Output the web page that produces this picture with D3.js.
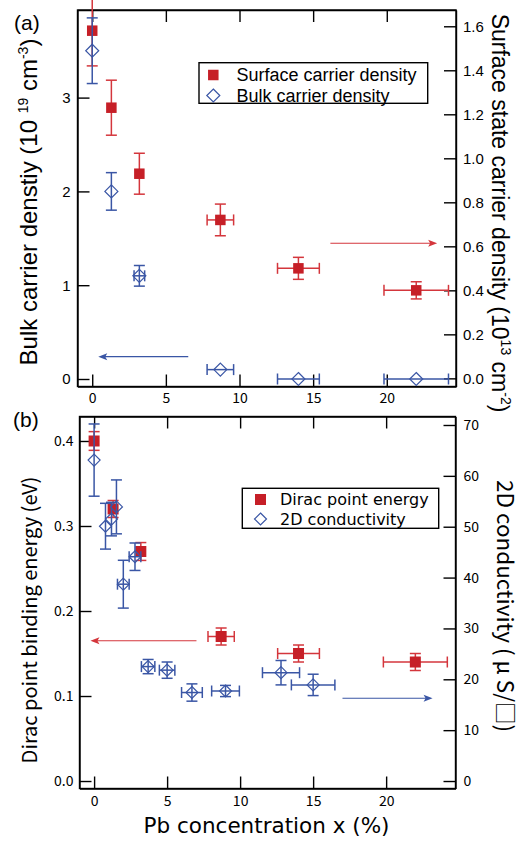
<!DOCTYPE html>
<html>
<head>
<meta charset="utf-8">
<script src="https://cdn.jsdelivr.net/npm/d3@7"></script>
<style>
  html, body { margin: 0; padding: 0; background: #fff; }
  svg { display: block; }
</style>
</head>
<body>
<svg id="chart" width="525" height="841"></svg>
<script>
// ---- Panel (a): carrier densities vs Pb concentration ----
const xSurface      = [0, 1.3, 3.2, 8.7, 14.0, 22.0];
const surfaceDens   = [1.58, 1.23, 0.93, 0.72, 0.50, 0.40];   // 10^13 cm^-2 (right axis)
const surfaceErr    = [0.16, 0.125, 0.093, 0.072, 0.05, 0.039];
const xSurfaceErr   = [0, 0, 0, 0.9, 1.42, 2.19];

const xBulk         = [0, 1.3, 3.2, 8.7, 14.0, 22.0];
const bulkDens      = [3.5, 2.0, 1.1, 0.1, 0.0, 0.0];         // 10^19 cm^-3 (left axis)
const bulkErr       = [0.35, 0.2, 0.11, 0, 0, 0];
const xBulkErr      = [0, 0, 0.36, 0.9, 1.42, 2.19];

// ---- Panel (b): Dirac point energy and 2D conductivity ----
const xDirac        = [0, 1.3, 3.2, 8.7, 14.0, 22.0];
const diracEnergy   = [0.40, 0.32, 0.27, 0.17, 0.15, 0.14];   // eV (left axis)
const diracErr      = [0.011, 0.01, 0.0105, 0.01, 0.01, 0.01];
const xDiracErr     = [0, 0, 0, 0.9, 1.43, 2.19];

const xCond         = [0, 0.78, 1.19, 1.53, 2.0, 2.8, 3.7, 5.0, 6.7, 9.0, 12.8, 15.0];
const conductivity  = [63.1, 50.1, 51.5, 53.9, 38.7, 44.1, 22.5, 21.8, 17.4, 17.7, 21.3, 18.9]; // uS/sq (right axis)
const condErr       = [7.1, 4.5, 3.3, 5.3, 4.7, 2.7, 1.4, 1.6, 1.7, 1.1, 2.4, 2.1];
const xCondErr      = [0, 0, 0, 0, 0.4, 0.4, 0.46, 0.53, 0.71, 0.95, 1.27, 1.49];

// ---- Tick values ----
const xTicks        = [0, 5, 10, 15, 20];
const bulkTicks     = [0, 1, 2, 3];
const surfaceTicks  = [0, 0.2, 0.4, 0.6, 0.8, 1.0, 1.2, 1.4, 1.6];
const diracTicks    = [0, 0.1, 0.2, 0.3, 0.4];
const condTicks     = [0, 10, 20, 30, 40, 50, 60, 70];

const RED = "#c61f27", RED_BAR = "#d4363c", BLUE = "#3a56a5";
const SANS = "'Liberation Sans', Arial, Helvetica, sans-serif";
const JP = "'Noto Sans CJK JP', 'Noto Sans', sans-serif";
const LEG = "'DejaVu Sans', sans-serif";

const svg = d3.select("#chart");

// geometry of both panels
const A = { l: 77.5, r: 456, t: 10, b: 386.5 };
const B = { l: 79.5, r: 455.5, t: 416.5, b: 788.5 };

const xA = d3.scaleLinear().domain([-1.0, 24.7]).range([A.l, A.r]);
const yBulk = d3.scaleLinear().domain([-0.08, 3.934]).range([A.b, A.t]);
const ySurf = d3.scaleLinear().domain([-0.037, 1.674]).range([A.b, A.t]);

const xB = d3.scaleLinear().domain([-1.0, 24.75]).range([B.l, B.r]);
const yDirac = d3.scaleLinear().domain([-0.0088, 0.4288]).range([B.b, B.t]);
const yCond = d3.scaleLinear().domain([-1.47, 71.67]).range([B.b, B.t]);

const TICK = 12;

function styleAxis(g, font, size) {
  g.selectAll("path.domain").attr("stroke", "#000").attr("stroke-width", 1.4);
  g.selectAll(".tick line").attr("stroke", "#000").attr("stroke-width", 1.4);
  g.selectAll(".tick text").attr("font-family", font).attr("font-size", size).attr("fill", "#000");
  g.attr("font-family", null).attr("font-size", null);
}

function frame(P, x, yL, yR, opts) {
  const g = svg.append("g");
  // top
  g.append("g").attr("transform", `translate(0,${P.t})`)
    .call(d3.axisTop(x).tickValues(xTicks).tickSizeInner(-TICK).tickSizeOuter(0).tickFormat(""))
    .call(s => styleAxis(s, opts.xFont, opts.xSize));
  // bottom
  g.append("g").attr("transform", `translate(0,${P.b})`)
    .call(d3.axisBottom(x).tickValues(xTicks).tickSizeInner(-TICK).tickSizeOuter(0).tickPadding(opts.xPad).tickFormat(d3.format("d")))
    .call(s => styleAxis(s, opts.xFont, opts.xSize));
  // left
  g.append("g").attr("transform", `translate(${P.l},0)`)
    .call(d3.axisLeft(yL).tickValues(opts.lTicks).tickSizeInner(-TICK).tickSizeOuter(0).tickPadding(opts.lPad).tickFormat(opts.lFmt))
    .call(s => styleAxis(s, opts.yFont, opts.ySize));
  // right
  g.append("g").attr("transform", `translate(${P.r},0)`)
    .call(d3.axisRight(yR).tickValues(opts.rTicks).tickSizeInner(-TICK).tickSizeOuter(0).tickPadding(opts.rPad).tickFormat(opts.rFmt))
    .call(s => styleAxis(s, opts.yFont, opts.ySize));
  // close the frame corners
  g.append("rect").attr("x", P.l).attr("y", P.t).attr("width", P.r - P.l).attr("height", P.b - P.t)
    .attr("fill", "none").attr("stroke", "#000").attr("stroke-width", 1.4);
}

function errorBars(g, xs, ys, yerr, xerr, x, y, color) {
  const cap = 5.5;
  xs.forEach((xv, i) => {
    const px = x(xv), py = y(ys[i]);
    if (yerr[i] > 0) {
      const y1 = y(ys[i] - yerr[i]), y2 = y(ys[i] + yerr[i]);
      g.append("line").attr("x1", px).attr("x2", px).attr("y1", y1).attr("y2", y2);
      g.append("line").attr("x1", px - cap).attr("x2", px + cap).attr("y1", y1).attr("y2", y1);
      g.append("line").attr("x1", px - cap).attr("x2", px + cap).attr("y1", y2).attr("y2", y2);
    }
    if (xerr[i] > 0) {
      const x1 = x(xv - xerr[i]), x2 = x(xv + xerr[i]);
      g.append("line").attr("x1", x1).attr("x2", x2).attr("y1", py).attr("y2", py);
      g.append("line").attr("x1", x1).attr("x2", x1).attr("y1", py - cap).attr("y2", py + cap);
      g.append("line").attr("x1", x2).attr("x2", x2).attr("y1", py - cap).attr("y2", py + cap);
    }
  });
  g.attr("stroke", color).attr("stroke-width", 1.5).attr("fill", "none");
}

function squares(g, xs, ys, x, y, size) {
  g.selectAll("rect").data(xs).join("rect")
    .attr("x", (d) => x(d) - size / 2)
    .attr("y", (d, i) => y(ys[i]) - size / 2)
    .attr("width", size).attr("height", size)
    .attr("fill", RED);
}

const diamondPath = (cx, cy, r) => `M${cx},${cy - r}L${cx + r},${cy}L${cx},${cy + r}L${cx - r},${cy}Z`;

function diamonds(g, xs, ys, x, y, r) {
  g.selectAll("path").data(xs).join("path")
    .attr("d", (d, i) => diamondPath(x(d), y(ys[i]), r))
    .attr("fill", "none").attr("stroke", BLUE).attr("stroke-width", 1.2);
}

function arrow(x1, y1, x2, y2, color) {
  const g = svg.append("g");
  const dir = Math.sign(x2 - x1);
  g.append("line").attr("x1", x1).attr("y1", y1).attr("x2", x2 - dir * 6).attr("y2", y2)
    .attr("stroke", color).attr("stroke-width", 1.1);
  g.append("path")
    .attr("d", `M${x2},${y2}L${x2 - dir * 9},${y2 - 3.5}L${x2 - dir * 7},${y2}L${x2 - dir * 9},${y2 + 3.5}Z`)
    .attr("fill", color);
}

// ================= Panel (a) =================
frame(A, xA, yBulk, ySurf, {
  xFont: JP, xSize: 14, xPad: 7,
  yFont: SANS, ySize: 15,
  lTicks: bulkTicks, lPad: 7, lFmt: d3.format("d"),
  rTicks: surfaceTicks, rPad: 7, rFmt: d3.format(".1f")
});

errorBars(svg.append("g"), xSurface, surfaceDens, surfaceErr, xSurfaceErr, xA, ySurf, RED_BAR);
squares(svg.append("g"), xSurface, surfaceDens, xA, ySurf, 10.5);
errorBars(svg.append("g"), xBulk, bulkDens, bulkErr, xBulkErr, xA, yBulk, BLUE);
diamonds(svg.append("g"), xBulk, bulkDens, xA, yBulk, 6.5);

arrow(xA(16.17), ySurf(0.614), xA(23.42), ySurf(0.614), RED_BAR);
arrow(xA(6.52), yBulk(0.238), xA(0.41), yBulk(0.238), BLUE);

// legend (a)
svg.append("rect").attr("x", 199).attr("y", 62.7).attr("width", 228.7).attr("height", 40.6)
  .attr("fill", "#fff").attr("stroke", "#000").attr("stroke-width", 1.4);
svg.append("rect").attr("x", 213.3 - 5.25).attr("y", 75 - 5.25).attr("width", 10.5).attr("height", 10.5).attr("fill", RED);
svg.append("path").attr("d", diamondPath(213.3, 95.5, 6.5)).attr("fill", "none").attr("stroke", BLUE).attr("stroke-width", 1.2);
svg.append("text").attr("x", 236.5).attr("y", 81.3).attr("font-family", SANS).attr("font-size", 18).text("Surface carrier density");
svg.append("text").attr("x", 236.5).attr("y", 101.6).attr("font-family", SANS).attr("font-size", 18).text("Bulk carrier density");

// axis titles (a)
const tl = svg.append("text").attr("transform", "translate(37,202) rotate(-90)")
  .attr("text-anchor", "middle").attr("font-family", SANS).attr("font-size", 24);
tl.append("tspan").text("Bulk carrier denstiy (10 ");
tl.append("tspan").attr("font-size", 14).attr("dy", -9).text("19");
tl.append("tspan").attr("dy", 9).text(" cm");
tl.append("tspan").attr("font-size", 14).attr("dy", -9).text("-3");
tl.append("tspan").attr("dy", 9).text(")");

const tr = svg.append("text").attr("transform", "translate(492,213) rotate(90)")
  .attr("text-anchor", "middle").attr("font-family", SANS).attr("font-size", 23);
tr.append("tspan").text("Surface state carrier density (10");
tr.append("tspan").attr("font-size", 14).attr("dy", -9).text("13");
tr.append("tspan").attr("dy", 9).text(" cm");
tr.append("tspan").attr("font-size", 14).attr("dy", -9).text("-2");
tr.append("tspan").attr("dy", 9).text(")");

svg.append("text").attr("x", 14).attr("y", 30).attr("font-family", SANS).attr("font-size", 21).text("(a)");

// ================= Panel (b) =================
frame(B, xB, yDirac, yCond, {
  xFont: JP, xSize: 14, xPad: 8,
  yFont: JP, ySize: 14,
  lTicks: diracTicks, lPad: 6, lFmt: d3.format(".1f"),
  rTicks: condTicks, rPad: 8, rFmt: d3.format("d")
});

errorBars(svg.append("g"), xDirac, diracEnergy, diracErr, xDiracErr, xB, yDirac, RED_BAR);
squares(svg.append("g"), xDirac, diracEnergy, xB, yDirac, 11);
errorBars(svg.append("g"), xCond, conductivity, condErr, xCondErr, xB, yCond, BLUE);
diamonds(svg.append("g"), xCond, conductivity, xB, yCond, 6);

arrow(xB(7.01), yDirac(0.165), xB(-0.25), yDirac(0.165), RED_BAR);
arrow(xB(17.01), yCond(16.26), xB(23.18), yCond(16.26), BLUE);

// legend (b)
svg.append("rect").attr("x", 242.3).attr("y", 488.3).attr("width", 196.4).attr("height", 40)
  .attr("fill", "#fff").attr("stroke", "#000").attr("stroke-width", 1.4);
svg.append("rect").attr("x", 260.5 - 5.5).attr("y", 499.5 - 5.5).attr("width", 11).attr("height", 11).attr("fill", RED);
svg.append("path").attr("d", diamondPath(260.5, 519, 6)).attr("fill", "none").attr("stroke", BLUE).attr("stroke-width", 1.2);
svg.append("text").attr("x", 280).attr("y", 505).attr("font-family", LEG).attr("font-size", 16).text("Dirac point energy");
svg.append("text").attr("x", 280).attr("y", 524.5).attr("font-family", LEG).attr("font-size", 16).text("2D conductivity");

// axis titles (b)
svg.append("text").attr("transform", "translate(37,620) rotate(-90)")
  .attr("text-anchor", "middle").attr("font-family", JP).attr("font-size", 20)
  .text("Dirac point binding energy (eV)");
svg.append("text").attr("transform", "translate(497,606) rotate(90)")
  .attr("text-anchor", "middle").attr("font-family", JP).attr("font-size", 22.5)
  .text("2D conductivity ( μ S/□)");
svg.append("text").attr("x", 266.5).attr("y", 833)
  .attr("text-anchor", "middle").attr("font-family", LEG).attr("font-size", 21.5)
  .text("Pb concentration x (%)");

svg.append("text").attr("x", 13).attr("y", 427).attr("font-family", SANS).attr("font-size", 21).text("(b)");
</script>
</body>
</html>
